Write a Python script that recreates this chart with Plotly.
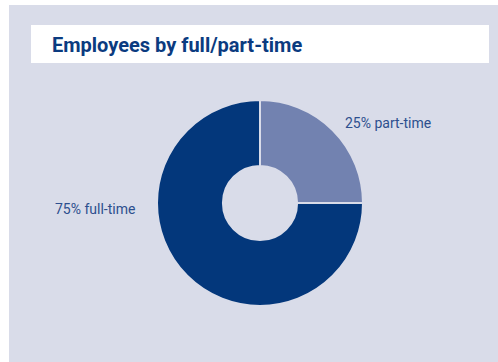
import plotly.graph_objects as go

W, H = 498, 362
categories = ["part-time", "full-time"]
values = [25, 75]
label_texts = ["25% part-time", "75% full-time"]
title_text = "Employees by full/part-time"

colors = ["#7282b0", "#03377b"]
bg = "#d9dce9"
font_family = "Liberation Sans Narrow, Roboto, Arial Narrow, sans-serif"

def px(x):
    return x / W

def py(y):
    return 1 - y / H

cx, cy, r = 260, 203, 103

fig = go.Figure()
fig.add_trace(go.Pie(
    labels=categories, values=values, sort=False, direction="clockwise", rotation=0,
    hole=0.36, marker=dict(colors=colors, line=dict(color=bg, width=2)),
    textinfo="none", hoverinfo="label+percent", showlegend=False,
    domain=dict(x=[px(cx - r), px(cx + r)], y=[py(cy + r), py(cy - r)]),
))

shapes = [
    dict(type="rect", xref="paper", yref="paper", x0=px(9), x1=px(498), y0=py(362), y1=py(5),
         fillcolor=bg, line=dict(width=0), layer="below"),
    dict(type="rect", xref="paper", yref="paper", x0=px(31), x1=px(489), y0=py(63), y1=py(25),
         fillcolor="white", line=dict(width=0), layer="below"),
]

annotations = [
    dict(text="<b>" + title_text + "</b>", x=px(50), y=py(45), xref="paper", yref="paper",
         xanchor="left", yanchor="middle", showarrow=False,
         font=dict(family=font_family, size=20, color="#0b3b80")),
    dict(text=label_texts[0], x=px(343), y=py(123), xref="paper", yref="paper",
         xanchor="left", yanchor="middle", showarrow=False,
         font=dict(family=font_family, size=14, color="#2d4f8e")),
    dict(text=label_texts[1], x=px(53), y=py(209), xref="paper", yref="paper",
         xanchor="left", yanchor="middle", showarrow=False,
         font=dict(family=font_family, size=14, color="#2d4f8e")),
]

fig.update_layout(width=W, height=H, margin=dict(l=0, r=0, t=0, b=0),
                  paper_bgcolor="white", plot_bgcolor="white",
                  shapes=shapes, annotations=annotations)
fig.write_html("out.html")
